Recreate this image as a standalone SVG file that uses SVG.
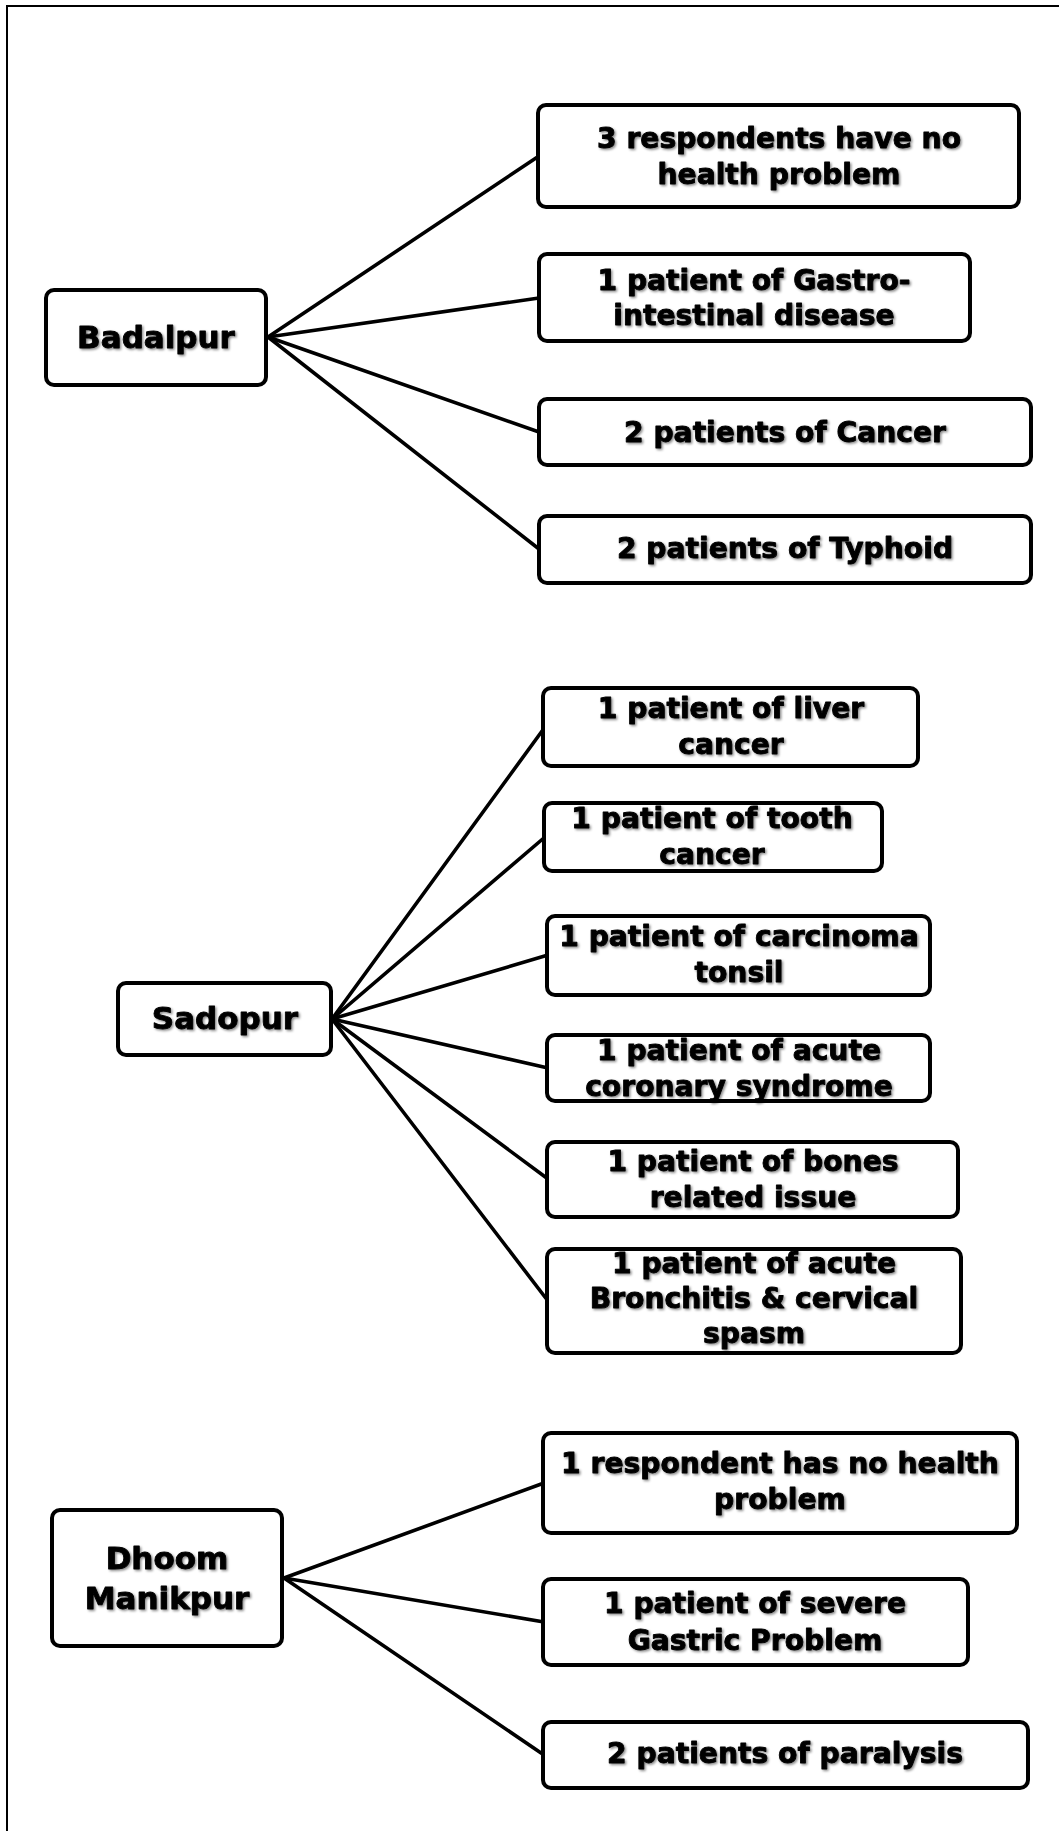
<svg xmlns="http://www.w3.org/2000/svg" width="1059" height="1831" viewBox="0 0 1059 1831">
<defs>
<filter id="sh" x="-5%" y="-20%" width="110%" height="150%">
<feDropShadow dx="1.5" dy="1.5" stdDeviation="1" flood-color="#000" flood-opacity="0.45"/>
</filter>
<style>
.box{fill:#fff;stroke:#000;stroke-width:4}
.conn line{stroke:#000;stroke-width:3.6;stroke-linecap:round}
text{font-family:"DejaVu Sans","Liberation Sans",sans-serif;font-weight:bold;fill:#000;stroke:#000;stroke-width:0.9;stroke-linejoin:round;text-anchor:middle;filter:url(#sh)}
.c{font-size:28.2px}
.p{font-size:31px}
</style>
</defs>
<rect width="1059" height="1831" fill="#fff"/>
<path d="M7,1831 V6 H1059" fill="none" stroke="#000" stroke-width="2"/>

<g id="connectors" class="conn">
<line x1="268" y1="337" x2="539" y2="156"/>
<line x1="268" y1="337" x2="539" y2="298"/>
<line x1="268" y1="337" x2="539" y2="432"/>
<line x1="268" y1="337" x2="539" y2="549"/>
<line x1="332" y1="1019" x2="545" y2="727"/>
<line x1="332" y1="1019" x2="545" y2="837"/>
<line x1="332" y1="1019" x2="548" y2="955"/>
<line x1="332" y1="1019" x2="548" y2="1068"/>
<line x1="332" y1="1019" x2="548" y2="1179"/>
<line x1="332" y1="1019" x2="548" y2="1301"/>
<line x1="284" y1="1578" x2="544" y2="1483"/>
<line x1="284" y1="1578" x2="544" y2="1622"/>
<line x1="284" y1="1578" x2="544" y2="1755"/>
</g>

<g id="badalpur">
<rect class="box" x="46" y="290" width="220" height="95" rx="8"/>
<text class="p" x="156" y="348">Badalpur</text>
</g>
<g id="b1">
<rect class="box" x="538" y="105" width="481" height="102" rx="8"/>
<text class="c" x="779" y="148">3 respondents have no</text>
<text class="c" x="779" y="184">health problem</text>
</g>
<g id="b2">
<rect class="box" x="539" y="254" width="431" height="87" rx="8"/>
<text class="c" x="754" y="290">1 patient of Gastro-</text>
<text class="c" x="754" y="325">intestinal disease</text>
</g>
<g id="b3">
<rect class="box" x="539" y="399" width="492" height="66" rx="8"/>
<text class="c" x="785" y="442">2 patients of Cancer</text>
</g>
<g id="b4">
<rect class="box" x="539" y="516" width="492" height="67" rx="8"/>
<text class="c" x="785" y="558">2 patients of Typhoid</text>
</g>

<g id="sadopur">
<rect class="box" x="118" y="983" width="213" height="72" rx="8"/>
<text class="p" x="225" y="1029">Sadopur</text>
</g>
<g id="s1">
<rect class="box" x="543" y="688" width="375" height="78" rx="8"/>
<text class="c" x="731" y="718">1 patient of liver</text>
<text class="c" x="731" y="754">cancer</text>
</g>
<g id="s2">
<rect class="box" x="544" y="803" width="338" height="68" rx="8"/>
<text class="c" x="712" y="828">1 patient of tooth</text>
<text class="c" x="712" y="864">cancer</text>
</g>
<g id="s3">
<rect class="box" x="547" y="916" width="383" height="79" rx="8"/>
<text class="c" x="739" y="946">1 patient of carcinoma</text>
<text class="c" x="739" y="982">tonsil</text>
</g>
<g id="s4">
<rect class="box" x="547" y="1035" width="383" height="66" rx="8"/>
<text class="c" x="739" y="1060">1 patient of acute</text>
<text class="c" x="739" y="1096">coronary syndrome</text>
</g>
<g id="s5">
<rect class="box" x="547" y="1142" width="411" height="75" rx="8"/>
<text class="c" x="753" y="1171">1 patient of bones</text>
<text class="c" x="753" y="1207">related issue</text>
</g>
<g id="s6">
<rect class="box" x="547" y="1249" width="414" height="104" rx="8"/>
<text class="c" x="754" y="1273">1 patient of acute</text>
<text class="c" x="754" y="1308">Bronchitis &amp; cervical</text>
<text class="c" x="754" y="1343">spasm</text>
</g>

<g id="dhoom-manikpur">
<rect class="box" x="52" y="1510" width="230" height="136" rx="8"/>
<text class="p" x="167" y="1569">Dhoom</text>
<text class="p" x="167" y="1609">Manikpur</text>
</g>
<g id="d1">
<rect class="box" x="543" y="1433" width="474" height="100" rx="8"/>
<text class="c" x="780" y="1473">1 respondent has no health</text>
<text class="c" x="780" y="1509">problem</text>
</g>
<g id="d2">
<rect class="box" x="543" y="1579" width="425" height="86" rx="8"/>
<text class="c" x="755" y="1613">1 patient of severe</text>
<text class="c" x="755" y="1650">Gastric Problem</text>
</g>
<g id="d3">
<rect class="box" x="543" y="1722" width="485" height="66" rx="8"/>
<text class="c" x="785" y="1763">2 patients of paralysis</text>
</g>
</svg>
